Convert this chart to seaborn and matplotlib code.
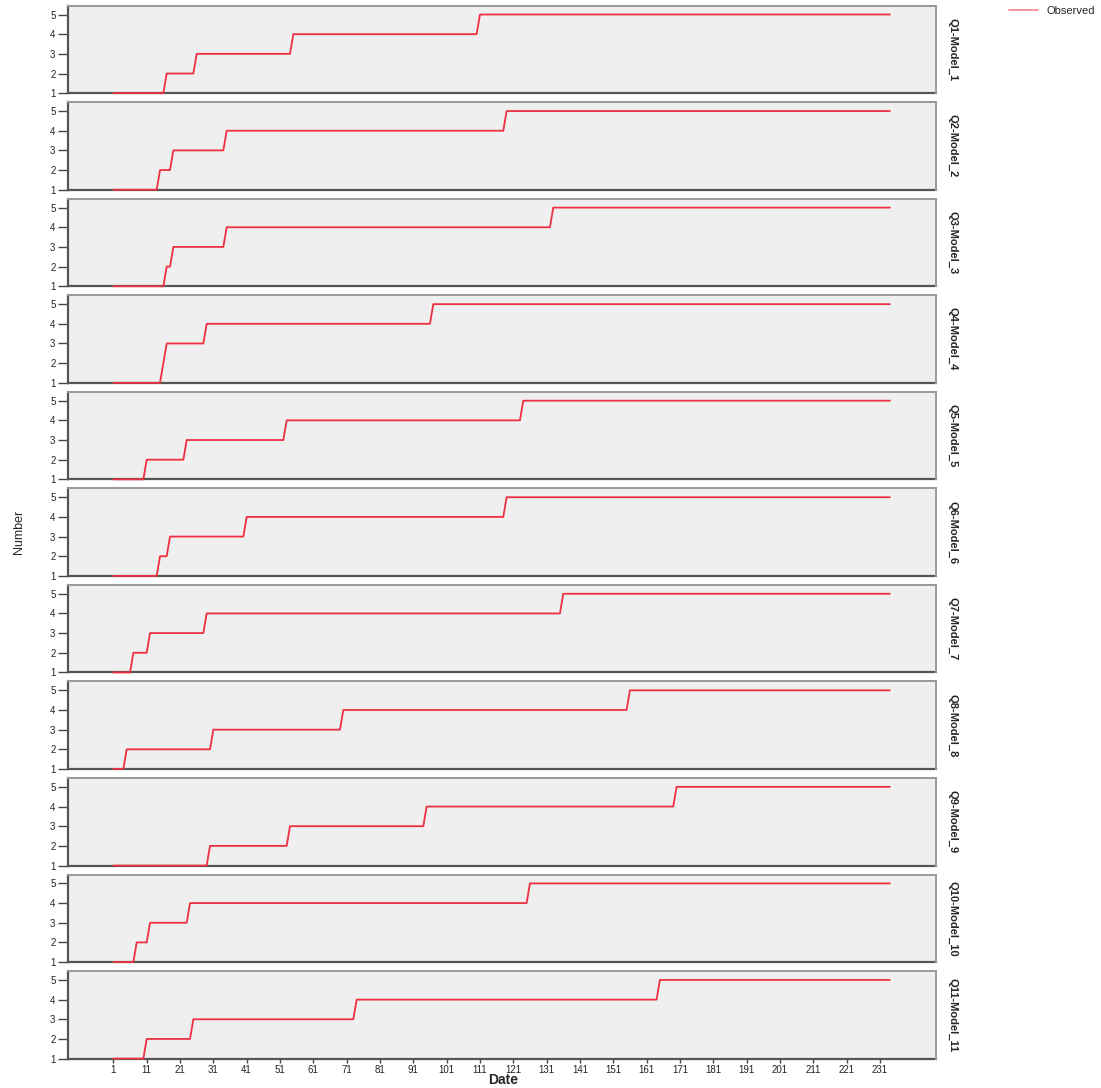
import numpy as np
import pandas as pd
import matplotlib
matplotlib.use("Agg")
import matplotlib.pyplot as plt
from matplotlib.lines import Line2D
import seaborn as sns

# panel names (row titles)
panels = ["Q1-Model_1", "Q2-Model_2", "Q3-Model_3", "Q4-Model_4", "Q5-Model_5",
          "Q6-Model_6", "Q7-Model_7", "Q8-Model_8", "Q9-Model_9", "Q10-Model_10",
          "Q11-Model_11"]

# first day on which the observed number reaches 2, 3, 4 and 5
steps_q1 = [17, 26, 55, 111]
steps_q2 = [15, 19, 35, 119]
steps_q3 = [17, 19, 35, 133]
steps_q4 = [16, 17, 29, 97]
steps_q5 = [11, 23, 53, 124]
steps_q6 = [15, 18, 41, 119]
steps_q7 = [7, 12, 29, 136]
steps_q8 = [5, 31, 70, 156]
steps_q9 = [30, 54, 95, 170]
steps_q10 = [8, 12, 24, 126]
steps_q11 = [11, 25, 74, 165]
all_steps = [steps_q1, steps_q2, steps_q3, steps_q4, steps_q5, steps_q6,
             steps_q7, steps_q8, steps_q9, steps_q10, steps_q11]

first_day, last_day = 1, 234
tick_days = list(range(1, 232, 10))
y_ticks = [1, 2, 3, 4, 5]

LINE_RED = "#ee3040"
NARROW = ["Liberation Sans Narrow", "Liberation Sans", "DejaVu Sans"]

frames = []
days = np.arange(first_day, last_day + 1)
for name, st in zip(panels, all_steps):
    number = 1 + np.searchsorted(st, days, side="right")
    frames.append(pd.DataFrame({"Date": days, "Number": number, "panel": name}))
df = pd.concat(frames, ignore_index=True)

sns.set_theme(style="white")
plt.rcParams["font.family"] = ["Liberation Sans", "DejaVu Sans"]

g = sns.relplot(data=df, x="Date", y="Number", row="panel", kind="line",
                estimator=None, color=LINE_RED, linewidth=1.3,
                height=1.0, aspect=10, facet_kws=dict(sharex=True, sharey=True))
g.figure.set_size_inches(11.01, 10.88)
g.figure.subplots_adjust(left=0.0618, right=0.85, top=0.9948, bottom=0.027,
                         hspace=0.103)
g.set_titles("")

n = len(panels)
for i, (ax, name) in enumerate(zip(g.axes.flat, panels)):
    ax.set_facecolor("#efefef")
    ax.set_xlim(-12.6, 247.8)
    ax.set_ylim(1, 5.45)
    ax.set_yticks(y_ticks)
    ax.set_xticks(tick_days)
    ax.set_xlabel("")
    ax.set_ylabel("")
    for line in ax.lines:
        line.set_zorder(3)
        line.set_clip_on(False)
    ax.tick_params(axis="y", left=True, length=7, width=1, color="#444444",
                   labelsize=7, pad=2, labelcolor="#222222")
    ax.tick_params(axis="x", bottom=(i == n - 1), labelbottom=(i == n - 1),
                   length=3, width=1, color="#444444",
                   labelsize=7, pad=1.5, labelcolor="#222222")
    for side in ["left", "bottom"]:
        ax.spines[side].set_color("#555555")
        ax.spines[side].set_linewidth(1.6)
        ax.spines[side].set_zorder(2)
    for side in ["top", "right"]:
        ax.spines[side].set_visible(True)
        ax.spines[side].set_color("#999999")
        ax.spines[side].set_linewidth(1.4)
    ax.text(1.014, 0.5, name, transform=ax.transAxes, rotation=270,
            ha="left", va="center", fontsize=8, fontweight="bold", family=NARROW)

g.figure.text(0.017, 0.511, "Number", rotation=90, ha="center", va="center",
              fontsize=9, family=NARROW)
g.figure.text(0.457, 0.0075, "Date", ha="center", va="center", fontsize=10,
              fontweight="bold")

handle = Line2D([], [], color="#f58a94", linewidth=1.3)
g.figure.legend([handle], ["Observed"], loc="upper right", bbox_to_anchor=(1.0, 1.0),
                frameon=False, fontsize=8, handlelength=2.6, borderaxespad=0.1)

g.figure.savefig("out.png", dpi=100)
